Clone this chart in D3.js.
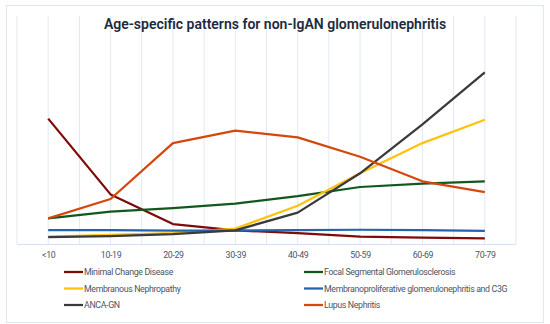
<!DOCTYPE html>
<html>
<head>
<meta charset="utf-8">
<script src="https://cdn.jsdelivr.net/npm/d3@7"></script>
<style>
  body { margin: 0; background: #fff; }
  text { font-family: Roboto, "Noto Sans", sans-serif; }
  .small { letter-spacing: -0.35px; }
</style>
</head>
<body>
<svg id="chart"></svg>
<script>
// age groups on the x axis
var ageGroups = ["<10", "10-19", "20-29", "30-39", "40-49", "50-59", "60-69", "70-79"];

// one array per disease
var minimalChange = [22.0, 8.7, 3.5, 2.4, 1.9, 1.3, 1.1, 1.0];
var fsgs = [4.5, 5.7, 6.3, 7.1, 8.4, 10.0, 10.6, 11.0];
var membranous = [1.3, 1.6, 1.9, 2.7, 6.7, 12.4, 17.7, 21.8];
var mpgnC3g = [2.45, 2.45, 2.35, 2.35, 2.45, 2.5, 2.45, 2.3];
var ancaGn = [1.2, 1.4, 1.75, 2.4, 5.5, 12.4, 21.0, 30.1];
var lupus = [4.5, 7.9, 17.7, 19.9, 18.7, 15.3, 11.0, 9.1];

var seriesNames = ["Minimal Change Disease", "Focal Segmental Glomerulosclerosis",
    "Membranous Nephropathy", "Membranoproliferative glomerulonephritis and C3G",
    "ANCA-GN", "Lupus Nephritis"];
var seriesValues = [minimalChange, fsgs, membranous, mpgnC3g, ancaGn, lupus];
var seriesColors = ["#7f0a0a", "#12581d", "#ffc20e", "#2463ad", "#3a3a3a", "#d4470d"];

var screen = {width: 550, height: 324};
var plot = {left: 17, right: 516, top: 16, bottom: 244};

var svg = d3.select("#chart")
    .attr("width", screen.width)
    .attr("height", screen.height);

// frame around the chart
svg.append("rect")
    .attr("x", 6.5).attr("y", 5.5)
    .attr("width", 537).attr("height", 317)
    .attr("fill", "#fff")
    .attr("stroke", "#dfe7f2");

var xScale = d3.scalePoint()
    .domain(ageGroups)
    .range([plot.left, plot.right])
    .padding(0.5);

var step = xScale.step();

var yScale = d3.scaleLinear()
    .domain([0, 40])
    .range([plot.bottom, plot.top]);

// vertical gridlines at band edges and centres
var gridX = d3.range(0, ageGroups.length * 2 + 1).map(function(i){
    return plot.left + i * step / 2;
});
svg.append("g")
    .selectAll("line")
    .data(gridX)
    .enter()
    .append("line")
    .attr("x1", function(d){ return d; })
    .attr("x2", function(d){ return d; })
    .attr("y1", plot.top)
    .attr("y2", plot.bottom)
    .attr("stroke", "#e1e9f4")
    .attr("stroke-width", 1);

// x axis
var xAxis = svg.append("g")
    .attr("transform", "translate(0," + plot.bottom + ")")
    .call(d3.axisBottom(xScale).tickSize(0).tickPadding(8));
xAxis.select(".domain")
    .attr("d", "M" + plot.left + ",0.5H" + plot.right)
    .attr("stroke", "#d6e0ee");
xAxis.selectAll("text")
    .attr("class", "small")
    .attr("font-size", "8.8px")
    .attr("fill", "#4a5566");

// title
svg.append("text")
    .attr("x", 275)
    .attr("y", 29)
    .attr("text-anchor", "middle")
    .attr("font-size", "14px")
    .attr("font-weight", "600")
    .attr("fill", "#1c2b3e")
    .text("Age-specific patterns for non-IgAN glomerulonephritis");

// lines
var line = d3.line()
    .x(function(d, i){ return xScale(ageGroups[i]); })
    .y(function(d){ return yScale(d); });

svg.append("g")
    .selectAll("path")
    .data(seriesValues)
    .enter()
    .append("path")
    .attr("d", line)
    .attr("fill", "none")
    .attr("stroke", function(d, i){ return seriesColors[i]; })
    .attr("stroke-width", 2.25)
    .attr("stroke-linejoin", "round");

// legend, two columns
var legend = svg.append("g")
    .selectAll("g")
    .data(seriesNames)
    .enter()
    .append("g")
    .attr("transform", function(d, i){
        var x = (i % 2 === 0) ? 64 : 304;
        var y = 272 + Math.floor(i / 2) * 16.5;
        return "translate(" + x + "," + y + ")";
    });

legend.append("line")
    .attr("x1", 0).attr("x2", 19)
    .attr("stroke", function(d, i){ return seriesColors[i]; })
    .attr("stroke-width", 2.25);

legend.append("text")
    .attr("class", "small")
    .attr("x", 20)
    .attr("dy", "0.35em")
    .attr("font-size", "8.8px")
    .attr("fill", "#4a5566")
    .text(function(d){ return d; });
</script>
</body>
</html>
